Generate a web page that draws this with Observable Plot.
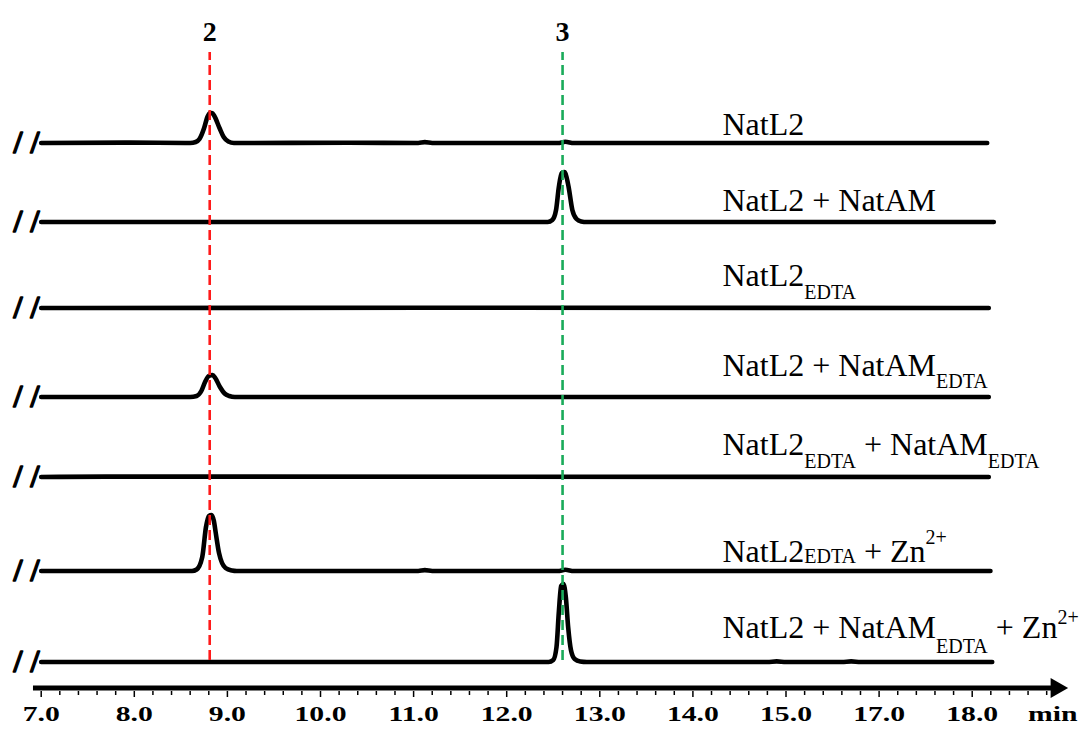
<!DOCTYPE html>
<html><head><meta charset="utf-8">
<script src="https://cdn.jsdelivr.net/npm/d3@7"></script>
<script src="https://cdn.jsdelivr.net/npm/@observablehq/plot@0.6"></script>
<style>
html,body{margin:0;padding:0;background:#fff;}
#chart svg{display:block;}
</style>
</head><body><div id="chart"></div>
<script>
// ---------------- data ----------------
const traceNames = [
  "NatL2",
  "NatL2 + NatAM",
  "NatL2_{EDTA}",
  "NatL2 + NatAM_{EDTA}",
  "NatL2_{EDTA} + NatAM_{EDTA}",
  "NatL2_{EDTA} + Zn^{2+}",
  "NatL2 + NatAM_{EDTA} + Zn^{2+}"
];
// vertical stacking offset of every chromatogram (signal units)
const traceOffsets = [545, 466, 380, 291, 211, 117, 26];
// [axis position, signal above own baseline]
const trace1 = [[7.00,0],[7.9,0.4],[8.60,0],[8.66,1],[8.70,4],[8.75,15],[8.785,26],[8.815,30],[8.835,30],[8.86,27],[8.915,15],[8.96,6],[9.01,1.5],[9.07,0],[10.3,0.3],[11.05,0],[11.12,0.9],[11.2,0],[12.55,0],[12.63,1.2],[12.72,0],[17.161,0]];
const trace2 = [[7.00,0],[9.5,0],[12.44,0],[12.49,2],[12.53,12],[12.56,35],[12.59,49],[12.62,50],[12.645,44],[12.665,35],[12.705,12],[12.75,3],[12.80,0.6],[12.86,0],[17.232,0]];
const trace3 = [[7.00,0],[11.1,0.3],[17.178,0]];
const trace4 = [[7.00,0],[8.60,0],[8.67,1],[8.72,6],[8.76,15],[8.80,21],[8.84,22],[8.87,19],[8.92,10],[8.97,3.5],[9.02,1],[9.08,0],[17.178,0]];
const trace5 = [[7.00,0],[7.7,0.4],[17.178,0]];
const trace6 = [[7.00,0],[8.62,0],[8.67,1.5],[8.73,14],[8.77,44],[8.80,55],[8.83,56],[8.855,50],[8.875,38],[8.91,18],[8.98,3],[9.05,0.5],[9.10,0],[11.05,0],[11.12,0.9],[11.2,0],[12.55,0],[12.63,1.2],[12.72,0],[17.196,0]];
const trace7 = [[7.00,0],[12.45,0],[12.50,2],[12.535,15],[12.56,50],[12.585,76],[12.61,78],[12.635,65],[12.66,35],[12.69,12],[12.73,3],[12.79,0.5],[12.86,0],[14.8,0],[14.9,0.6],[15.0,0],[15.6,0],[15.7,0.6],[15.8,0],[17.215,0]];
const traces = [trace1, trace2, trace3, trace4, trace5, trace6, trace7];

const peakLabels = ["2", "3"];
const peakPositions = [8.81, 12.6];
const peakColors = ["#ff1a1a", "#1aab5a"];

const tickPositions = [7, 8, 9, 10, 11, 12, 13, 14, 15, 16, 17];
const tickLabels = ["7.0","8.0","9.0","10.0","11.0","12.0","13.0","14.0","15.0","17.0","18.0"];
const axisUnit = "min";

// ---------------- layout ----------------
const W = 1087, H = 731;
const xDomain = [7, 18.131];
const yDomain = [0, 687.5];
const labelX = 14.318;
const labelLift = [8, 11, 22, 21, 22, 9, 24];
const subShift = [0, 0, 13, 12, 13, 1, 15];
const supRaise = [0, 0, 0, 0, 0, 18, 14];
const axisStart = 6.917, arrowCenter = 17.905;
const minorTicks = d3.range(7.2, 17.85, 0.2).map(v => +v.toFixed(1)).filter(v => Math.abs(v - Math.round(v)) > 1e-6);

const rows = traces.flatMap((tr, i) => tr.map(([t, v]) => ({trace: traceNames[i], t, v: v + traceOffsets[i]})));
const markers = peakPositions.map((t, i) => ({t, label: peakLabels[i], color: peakColors[i]}));
const labelRows = traceNames.map((name, i) => ({name, t: labelX, y: traceOffsets[i] + labelLift[i]}));

const serif = "Liberation Serif";

const svg = Plot.plot({
  width: W, height: H,
  marginLeft: 40.7, marginRight: 10, marginTop: 0, marginBottom: 43.5,
  style: {fontFamily: serif, background: "white", color: "black", overflow: "visible"},
  x: {domain: xDomain},
  y: {domain: yDomain, axis: null},
  color: {type: "identity"},
  marks: [
    // chromatograms
    Plot.line(rows, {x: "t", y: "v", z: "trace", stroke: "black", strokeWidth: 4.6,
      curve: "monotone-x", strokeLinejoin: "round", strokeLinecap: "round"}),
    // axis break marks
    Plot.text(traceOffsets, {x: () => xDomain[0], y: d => d, text: () => "/ /", dx: -14.7, fontFamily: serif,
      fontSize: 32, fontWeight: "bold", textAnchor: "middle", lineAnchor: "middle", fill: "black",
      stroke: "black", strokeWidth: 1.3}),
    // peak marker lines
    Plot.ruleX(markers, {x: "t", y1: 27.5, y2: 635.5, stroke: "color", strokeWidth: 2.6, strokeDasharray: "10,5"}),
    Plot.text(markers, {x: "t", y: 647.5, text: "label", fontFamily: serif, fontSize: 28, fontWeight: "bold", lineAnchor: "bottom", textAnchor: "middle", fill: "black"}),
    // trace names
    Plot.text(labelRows, {x: "t", y: "y", text: "name", fontFamily: serif, fontSize: 32, textAnchor: "start", lineAnchor: "bottom", fill: "black"}),
    // time axis with arrow
    Plot.ruleY([0], {x1: axisStart, x2: arrowCenter, strokeWidth: 5, stroke: "black"}),
    Plot.dot([arrowCenter], {x: d => d, y: () => 0, symbol: "triangle", r: 7.5, rotate: 90, fill: "black", stroke: "none"}),
    Plot.axisX(tickPositions, {anchor: "bottom", tickSize: 6, dy: 3.5, strokeWidth: 1.5, fill: "none", label: null}),
    Plot.axisX(minorTicks, {anchor: "bottom", tickSize: 4, dy: 3.5, strokeWidth: 1.5, fill: "none", label: null}),
    Plot.axisX(tickPositions, {anchor: "bottom", tickSize: 0, tickPadding: 16.9, fontFamily: serif, fontSize: 22, fontWeight: "bold",
      tickFormat: d => tickLabels[tickPositions.indexOf(d)], label: null, fill: "black"}),
    Plot.text([axisUnit], {x: () => xDomain[1], y: () => 0, text: d => d, dy: 32.5, fontFamily: serif, fontSize: 22, fontWeight: "bold",
      textAnchor: "end", lineAnchor: "bottom", fill: "black"})
  ]
});

// rich text: subscripts / superscripts in trace names
const sel = d3.select(svg);
sel.selectAll("text").each(function () {
  const s = this.textContent;
  const idx = traceNames.indexOf(s);
  if (idx < 0) return;
  const segs = [];
  const re = /([_^])\{([^}]*)\}|([^_^]+)/g;
  let m;
  while ((m = re.exec(s))) {
    if (m[3] !== undefined) segs.push({kind: "n", t: m[3]});
    else segs.push({kind: m[1] === "_" ? "sub" : "sup", t: m[2]});
  }
  const el = d3.select(this);
  el.text(null);
  let cur = 0;
  for (const seg of segs) {
    const target = seg.kind === "sub" ? subShift[idx] : seg.kind === "sup" ? -supRaise[idx] : 0;
    const ts = el.append("tspan").attr("dy", target - cur).text(seg.t);
    if (seg.kind !== "n") ts.attr("font-size", 20);
    cur = target;
  }
});
// axis lettering is drawn horizontally stretched in the reference
sel.selectAll("text").each(function () {
  const s = this.textContent;
  if (tickLabels.includes(s) || s === axisUnit) {
    const tr = this.getAttribute("transform") || "";
    this.setAttribute("transform", tr + " scale(1.35,1)");
  }
});

document.getElementById("chart").appendChild(svg);
</script></body></html>
